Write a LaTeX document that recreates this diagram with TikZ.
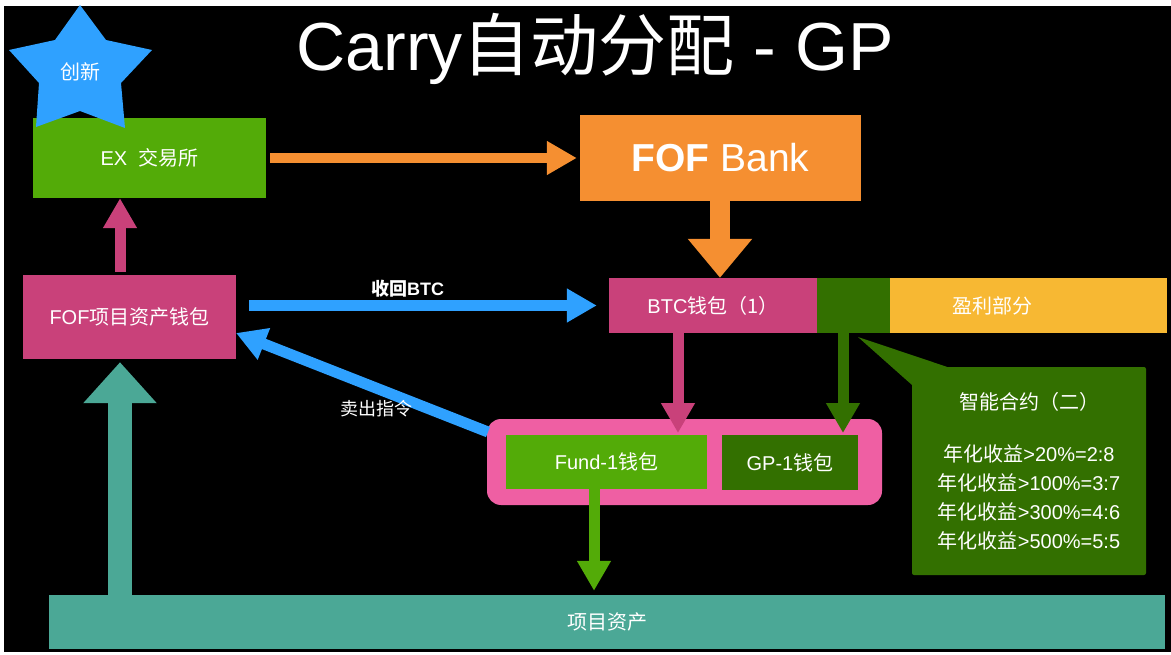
\documentclass[tikz,border=0pt]{standalone}
\usepackage{fontspec}
\setmainfont{Liberation Sans}
\newfontfamily\cjkfont{Noto Sans CJK SC}
\newcommand{\zh}[1]{{\cjkfont #1}}
\usetikzlibrary{arrows.meta}
\definecolor{exgreen}{HTML}{53AB08}
\definecolor{darkgreen}{HTML}{337000}
\definecolor{bankorange}{HTML}{F58F31}
\definecolor{walletpink}{HTML}{C9417A}
\definecolor{poolpink}{HTML}{EF5FA3}
\definecolor{assetteal}{HTML}{4BA896}
\definecolor{profityellow}{HTML}{F7B833}
\definecolor{starblue}{HTML}{2FA1FF}
\tikzset{
 box/.style={inner sep=0pt,text=white,font=\fontsize{20}{24}\selectfont},
 txt/.style={inner sep=0pt,text=white,font=\fontsize{20}{24}\selectfont},
 thinarrow/.style={line width=11pt,-{Triangle[width=32pt,length=30pt]}}
}
\begin{document}
\begin{tikzpicture}[x=1pt,y=-1pt]
 \useasboundingbox (0,0) rectangle (1171,655);
 \fill[white] (0,0) rectangle (1171,655);
 \fill[black] (4,6) rectangle (1171,652);
 \node[txt,font=\fontsize{68}{72}\selectfont] (title) at (595,49) {Carry\zh{自动分配} - GP};
 \node[box,fill=exgreen,minimum width=233pt,minimum height=80pt] (ex) at (149.5,158) {EX\ \ \zh{交易所}};
 \fill[starblue] (80,5)--(106,40)--(152,50)--(121,83)--(125,128)--(80,111)--(36,127)--(39,83)--(9,50)--(55,40)--cycle;
 \node[txt] (star) at (80,72) {\zh{创新}};
 \node[box,fill=bankorange,minimum width=281pt,minimum height=86pt,font=\fontsize{39}{42}\selectfont] (bank) at (720.5,158) {\textbf{FOF} Bank};
 \node[box,fill=walletpink,minimum width=213pt,minimum height=84pt] (fof) at (129.5,317) {FOF\zh{项目资产钱包}};
 \node[box,fill=walletpink,minimum width=208pt,minimum height=55pt] (btc) at (713,305.5) {BTC\zh{钱包（1）}};
 \node[box,fill=darkgreen,minimum width=73pt,minimum height=55pt] (gpshare) at (853.5,305.5) {};
 \node[box,fill=profityellow,minimum width=277pt,minimum height=55pt] (profit) at (1028.5,305.5) {};
 \node[txt] (profittxt) at (992,306) {\zh{盈利部分}};
 \node[box,fill=poolpink,rounded corners=14pt,minimum width=395pt,minimum height=86pt] (pool) at (684.5,462) {};
 \node[box,fill=exgreen,minimum width=201pt,minimum height=54pt] (fund) at (606.5,462) {Fund-1\zh{钱包}};
 \node[box,fill=darkgreen,minimum width=136pt,minimum height=55pt] (gp) at (790,462.5) {GP-1\zh{钱包}};
 \node[box,fill=assetteal,minimum width=1116pt,minimum height=54pt] (asset) at (607,622) {\zh{项目资产}};
 \node[box,fill=darkgreen,rounded corners=2pt,minimum width=234pt,minimum height=208pt,align=center,font=\fontsize{20}{29}\selectfont] (note) at (1029,471) {\zh{智能合约（二）}\\[23pt]\zh{年化收益}>20\%=2:8\\\zh{年化收益}>100\%=3:7\\\zh{年化收益}>300\%=4:6\\\zh{年化收益}>500\%=5:5};
 \coordinate (notetip) at (858,337);
 \fill[darkgreen] (notetip)--([xshift=35pt]note.north west)--([yshift=-18pt]note.north west)--cycle;
 \draw[bankorange,line width=10pt,-{Triangle[width=32pt,length=30pt]},shorten <=4pt,shorten >=3pt] (ex.east)--(ex.east -| bank.west);
 \coordinate (bankdown) at (720,201);
 \draw[bankorange,line width=20pt,-{Triangle[width=62pt,length=39pt]}] (bankdown)--(bankdown |- btc.north);
 \coordinate (fofup) at (120,275);
 \draw[walletpink,thinarrow,shorten <=3pt] (fofup)--(fofup |- ex.south);
 \draw[starblue,thinarrow,shorten <=13pt,shorten >=12pt] (fof.east |- btc.west)--(btc.west) node[pos=.46,above=3pt,inner sep=0pt,text=white,font=\fontsize{18}{20}\bfseries\selectfont] (take) {\zh{收回}BTC};
 \coordinate (poolout) at (488,432);
 \coordinate (foftip) at (236,333);
 \draw[starblue,thinarrow] (poolout)--(foftip);
 \node[txt,font=\fontsize{18}{20}\selectfont] (sell) at (376,409) {\zh{卖出指令}};
 \coordinate (btcdown) at (678,333);
 \coordinate (btctip) at (678,433);
 \draw[walletpink,thinarrow] (btcdown)--(btctip);
 \coordinate (gpdown) at (843,333);
 \coordinate (gptip) at (843,433);
 \draw[darkgreen,thinarrow] (gpdown)--(gptip);
 \coordinate (funddown) at (594,489);
 \draw[exgreen,thinarrow,shorten >=4pt] (funddown)--(funddown |- asset.north);
 \coordinate (assetup) at (120,595);
 \draw[assetteal,line width=24pt,-{Triangle[width=71pt,length=41pt]},shorten >=3pt] (assetup)--(assetup |- fof.south);
\end{tikzpicture}
\end{document}
